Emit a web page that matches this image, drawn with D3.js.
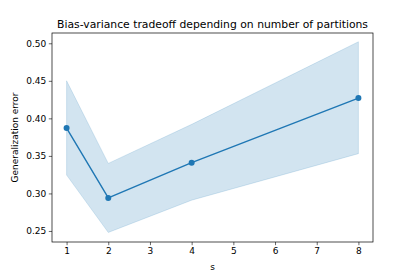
<!DOCTYPE html>
<html><head><meta charset="utf-8">
<script src="https://cdn.jsdelivr.net/npm/d3@7"></script>
<style>body{margin:0;background:#fff}svg{display:block;font-family:"DejaVu Sans",sans-serif}</style>
</head><body>
<script>
const sValues = [1, 2, 4, 8];
const meanError = [0.387, 0.294, 0.341, 0.427];
const upperError = [0.450, 0.340, 0.392, 0.502];
const lowerError = [0.3245, 0.248, 0.291, 0.353];
const xTicks = [1, 2, 3, 4, 5, 6, 7, 8];
const yTicks = [0.25, 0.30, 0.35, 0.40, 0.45, 0.50];
const titleText = "Bias-variance tradeoff depending on number of partitions";
const xLabel = "s";
const yLabel = "Generalization error";

const W = 415, H = 277;
const m = {left: 52, right: 42, top: 33, bottom: 35};
const svg = d3.select("body").append("svg").attr("width", W).attr("height", H);

const x = d3.scaleLinear().domain([0.65, 8.35]).range([m.left, W - m.right]);
const y = d3.scaleLinear().domain([0.2353, 0.5137]).range([H - m.bottom, m.top]);

const data = sValues.map((s, i) => ({s, m: meanError[i], lo: lowerError[i], hi: upperError[i]}));
const color = "#1f77b4";

svg.append("path").datum(data)
  .attr("d", d3.area().x(d => x(d.s)).y0(d => y(d.lo)).y1(d => y(d.hi)))
  .attr("fill", color).attr("fill-opacity", 0.2)
  .attr("stroke", color).attr("stroke-opacity", 0.2).attr("stroke-width", 0.8);

svg.append("path").datum(data)
  .attr("d", d3.line().x(d => x(d.s)).y(d => y(d.m)))
  .attr("fill", "none").attr("stroke", color).attr("stroke-width", 1.4);

svg.selectAll("circle.pt").data(data).enter().append("circle")
  .attr("cx", d => x(d.s)).attr("cy", d => y(d.m)).attr("r", 3).attr("fill", color);

const xAxis = svg.append("g").attr("transform", `translate(0,${H - m.bottom})`)
  .call(d3.axisBottom(x).tickValues(xTicks).tickFormat(d3.format("d")).tickSize(3.2).tickPadding(2.5));
const yAxis = svg.append("g").attr("transform", `translate(${m.left},0)`)
  .call(d3.axisLeft(y).tickValues(yTicks).tickFormat(d3.format(".2f")).tickSize(3.2).tickPadding(2.5));
[xAxis, yAxis].forEach(a => {
  a.select(".domain").remove();
  a.selectAll("text").attr("font-size", 9).attr("font-family", "DejaVu Sans").attr("fill", "#000");
  a.selectAll("line").attr("stroke", "#000").attr("stroke-width", 0.6);
});

svg.append("rect").attr("x", m.left).attr("y", m.top)
  .attr("width", W - m.right - m.left).attr("height", H - m.bottom - m.top)
  .attr("fill", "none").attr("stroke", "#000").attr("stroke-width", 0.7);

svg.append("text").attr("x", (m.left + W - m.right) / 2).attr("y", 27.5)
  .attr("text-anchor", "middle").attr("font-size", 10.8).text(titleText);
svg.append("text").attr("x", (m.left + W - m.right) / 2).attr("y", 270)
  .attr("text-anchor", "middle").attr("font-size", 9).text(xLabel);
svg.append("text").attr("transform", `translate(18,${(m.top + H - m.bottom) / 2}) rotate(-90)`)
  .attr("text-anchor", "middle").attr("font-size", 9).text(yLabel);
</script>
</body></html>
